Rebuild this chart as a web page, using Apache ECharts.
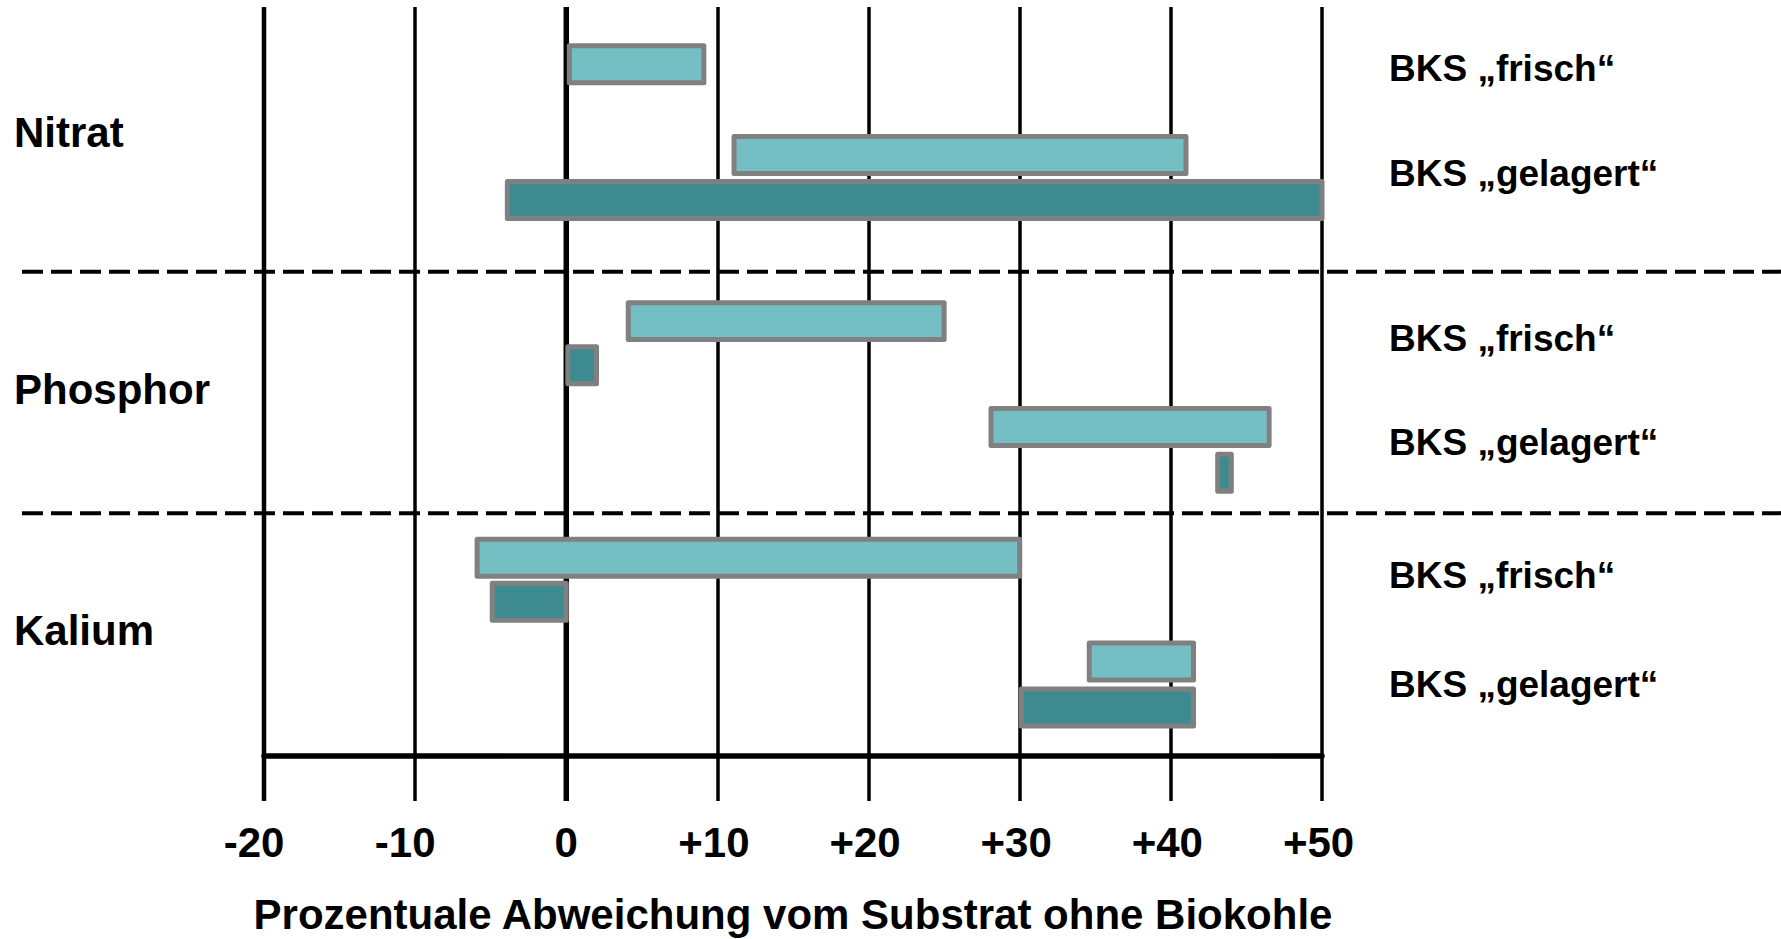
<!DOCTYPE html>
<html><head><meta charset="utf-8">
<script src="https://cdn.jsdelivr.net/npm/echarts@6/dist/echarts.min.js"></script>
<style>html,body{margin:0;padding:0;background:#fff}#c{width:1781px;height:939px}</style>
</head><body><div id="c"></div>
<script>
// ---- data ----
const xTicks = [-20, -10, 0, 10, 20, 30, 40, 50];
const tickLabels = ['-20', '-10', '0', '+10', '+20', '+30', '+40', '+50'];
const axisTitle = 'Prozentuale Abweichung vom Substrat ohne Biokohle';
const nutrients = ['Nitrat', 'Phosphor', 'Kalium'];
const nutrientRow = [2.77, 8.43, 13.73];
const variantLabels = ['BKS \u201Efrisch\u201C', 'BKS \u201Egelagert\u201C', 'BKS \u201Efrisch\u201C', 'BKS \u201Egelagert\u201C', 'BKS \u201Efrisch\u201C', 'BKS \u201Egelagert\u201C'];
const variantRow = [1.35, 3.67, 7.30, 9.60, 12.53, 14.93];
const separatorRow = [5.83, 11.15];
// light bars (start, end, row)
const lightStart = [0.2, 11.1, 4.1, 28.1, -5.9, 34.6];
const lightEnd   = [9.1, 41.0, 25.0, 46.5, 30.0, 41.5];
const lightRow   = [1.26, 3.26, 6.92, 9.25, 12.13, 14.42];
// dark bars
const darkStart = [-3.9, 0.1, 43.1, -4.9, 30.1];
const darkEnd   = [50.0, 2.0, 44.0, 0.0, 41.5];
const darkRow   = [4.25, 7.89, 10.26, 13.10, 15.43];

const FONT = '"Liberation Sans", Arial, Helvetica, sans-serif';
const BAR_H = 0.815;

function renderBar(params, api) {
  const s = api.coord([api.value(0), api.value(2)]);
  const e = api.coord([api.value(1), api.value(2)]);
  const h = api.size([0, BAR_H])[1];
  return {
    type: 'rect',
    shape: { x: s[0], y: s[1] - h / 2, width: e[0] - s[0], height: h },
    style: { fill: api.visual('color'), stroke: '#808080', lineWidth: 5, lineJoin: 'round' }
  };
}

const labelBase = { fontSize: 42, fontWeight: 'bold', color: '#000', fontFamily: FONT };
const chart = echarts.init(document.getElementById('c'), null, { renderer: 'svg' });
const option = {
  animation: false,
  backgroundColor: '#fff',
  grid: { left: 264, width: 1058, top: 7, height: 749, outerBoundsMode: 'none', containLabel: false },
  xAxis: {
    type: 'value', min: -20, max: 50, interval: 10,
    axisLine: { show: true, onZero: false, lineStyle: { color: '#000', width: 5.5 } },
    axisTick: { show: true, length: 45, lineStyle: { color: '#000', width: 3.5 } },
    splitLine: { show: true, showMinLine: true, showMaxLine: true, lineStyle: { color: '#000', width: 3.5 } },
    axisLabel: Object.assign({
      margin: 65,
      formatter: v => {
        const t = tickLabels[xTicks.indexOf(v)];
        return v < 0 ? '{neg|' + t + '}' : (v > 0 ? '{pos|' + t + '}' : '{zero|' + t + '}');
      },
      rich: {
        neg: Object.assign({ padding: [0, 20, 0, 0] }, labelBase),
        pos: Object.assign({ padding: [0, 7, 0, 0] }, labelBase),
        zero: Object.assign({}, labelBase)
      }
    }, labelBase),
    name: axisTitle, nameLocation: 'middle', nameGap: 137,
    nameTextStyle: { fontSize: 42, fontWeight: 'bold', color: '#000', fontFamily: FONT }
  },
  yAxis: { type: 'value', inverse: true, min: 0, max: 16.5, show: false, splitLine: { show: false } },
  series: [
    {
      type: 'custom', name: 'hell', renderItem: renderBar,
      itemStyle: { color: '#74BFC4' },
      encode: { x: [0, 1], y: 2 },
      data: lightStart.map((s, i) => [s, lightEnd[i], lightRow[i]])
    },
    {
      type: 'custom', name: 'dunkel', renderItem: renderBar,
      itemStyle: { color: '#3D8B91' },
      encode: { x: [0, 1], y: 2 },
      data: darkStart.map((s, i) => [s, darkEnd[i], darkRow[i]])
    }
  ]
};
chart.setOption(option);

const gridTop = 7, gridBottom = 756 + 45;
const x0 = chart.convertToPixel({ xAxisIndex: 0 }, 0);
const xm = chart.convertToPixel({ xAxisIndex: 0 }, -20);
const yPix = v => chart.convertToPixel({ yAxisIndex: 0 }, v);
const graphics = [];
graphics.push({ type: 'line', z: 1, shape: { x1: x0, y1: gridTop, x2: x0, y2: gridBottom }, style: { stroke: '#000', lineWidth: 5.5 } });
graphics.push({ type: 'line', z: 1, shape: { x1: xm, y1: gridTop, x2: xm, y2: gridBottom }, style: { stroke: '#000', lineWidth: 4.5 } });
separatorRow.forEach(r => {
  const y = yPix(r);
  graphics.push({ type: 'line', z: 1, shape: { x1: 22, y1: y, x2: 1781, y2: y }, style: { stroke: '#000', lineWidth: 4, lineDash: [21, 8] } });
});
nutrients.forEach((t, i) => {
  graphics.push({ type: 'text', z: 5, x: 14, y: yPix(nutrientRow[i]),
    style: { text: t, fill: '#000', font: 'bold 42px ' + FONT, textAlign: 'left', textVerticalAlign: 'middle', align: 'left', verticalAlign: 'middle' } });
});
variantLabels.forEach((t, i) => {
  graphics.push({ type: 'text', z: 5, x: 1389, y: yPix(variantRow[i]),
    style: { text: t, fill: '#000', font: 'bold 37px ' + FONT, textAlign: 'left', textVerticalAlign: 'middle', align: 'left', verticalAlign: 'middle' } });
});
chart.setOption({ graphic: graphics });
</script>
</body></html>
